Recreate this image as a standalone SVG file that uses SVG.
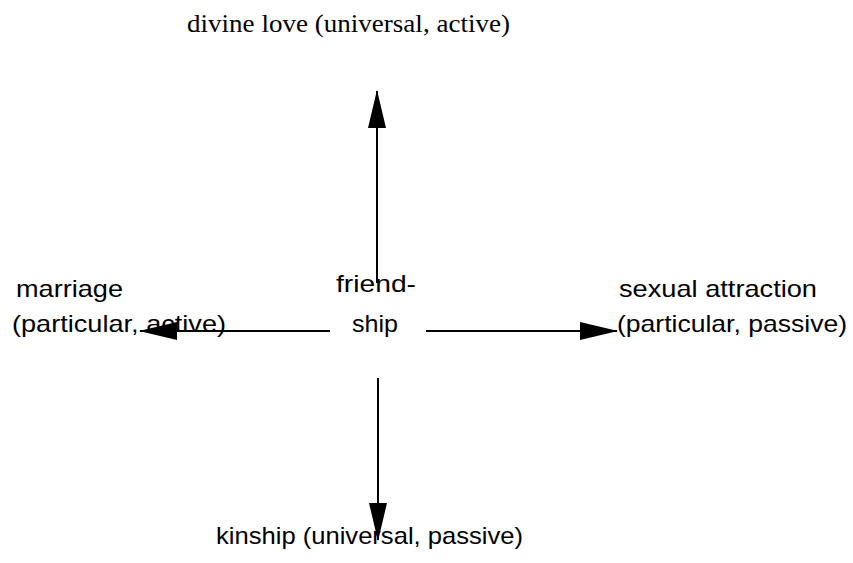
<svg xmlns="http://www.w3.org/2000/svg" width="853" height="563" viewBox="0 0 853 563">
<style>
.s{font-family:"Liberation Sans","Open Sans",sans-serif;font-size:24px;fill:#000}
.g{font-family:"Liberation Serif","DejaVu Serif",serif;font-size:26px;fill:#000}
.c{stroke:#000;stroke-width:2;fill:none}
</style>
<defs>
<marker id="ah" markerUnits="userSpaceOnUse" markerWidth="38" markerHeight="20" viewBox="0 0 38 20" refX="37" refY="10" orient="auto">
<polygon points="0,1 38,10 0,19" fill="#000"/>
</marker>
</defs>
<rect width="853" height="563" fill="#fff"/>
<g id="connectors">
<line class="c" x1="377" y1="283" x2="377" y2="91" marker-end="url(#ah)"/>
<line class="c" x1="330" y1="331" x2="140" y2="331" marker-end="url(#ah)"/>
<line class="c" x1="426" y1="331" x2="617" y2="331" marker-end="url(#ah)"/>
<line class="c" x1="378" y1="378" x2="378" y2="540" marker-end="url(#ah)"/>
</g>
<g id="divine"><text class="g" x="187" y="32" textLength="323" lengthAdjust="spacingAndGlyphs">divine love (universal, active)</text></g>
<g id="marriage">
<text class="s" x="16" y="297" textLength="107" lengthAdjust="spacingAndGlyphs">marriage</text>
<text class="s" x="12" y="332" textLength="214" lengthAdjust="spacingAndGlyphs">(particular, active)</text>
</g>
<g id="friendship">
<text class="s" x="336" y="292" textLength="80" lengthAdjust="spacingAndGlyphs">friend-</text>
<text class="s" x="352" y="332" textLength="46" lengthAdjust="spacingAndGlyphs">ship</text>
</g>
<g id="sexual">
<text class="s" x="619" y="297" textLength="198" lengthAdjust="spacingAndGlyphs">sexual attraction</text>
<text class="s" x="617" y="332" textLength="230" lengthAdjust="spacingAndGlyphs">(particular, passive)</text>
</g>
<g id="kinship"><text class="s" x="216" y="544" textLength="307" lengthAdjust="spacingAndGlyphs">kinship (universal, passive)</text></g>
</svg>
